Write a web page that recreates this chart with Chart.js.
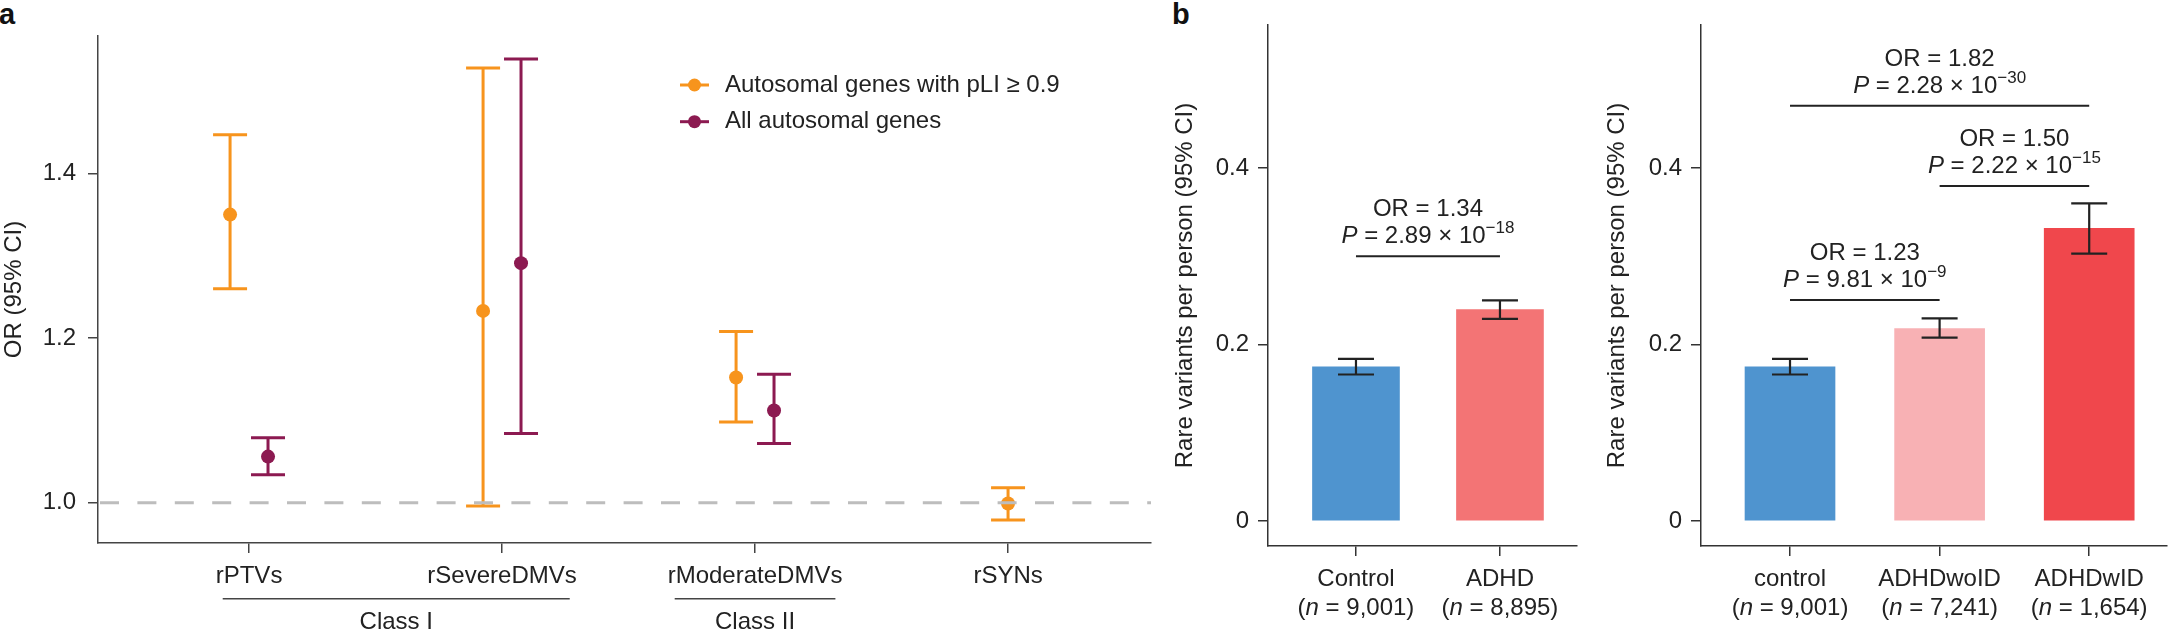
<!DOCTYPE html>
<html>
<head>
<meta charset="utf-8">
<script src="https://cdn.jsdelivr.net/npm/chart.js@4.4.1/dist/chart.umd.min.js"></script>
<style>
  html, body { margin: 0; padding: 0; background: #fff; }
  #page { position: relative; width: 2168px; height: 631px; overflow: hidden; }
  canvas { position: absolute; top: 0; }
  .tag { position: absolute; top: 0; font: bold 29px "Liberation Sans", Arial, sans-serif; line-height: 1; color: #111; }
</style>
</head>
<body>
<div id="page">
  <div class="tag" style="left:-1px">a</div>
  <div class="tag" style="left:1172px">b</div>
  <canvas id="chartA" width="1160" height="631" style="left:0"></canvas>
  <canvas id="chartB1" width="430" height="631" style="left:1160px"></canvas>
  <canvas id="chartB2" width="576" height="631" style="left:1592px"></canvas>
</div>
<script>
// ---- panel a data: odds ratios with 95% CI ----
const categories = ['rPTVs', 'rSevereDMVs', 'rModerateDMVs', 'rSYNs'];
const pliOR = [1.350, 1.233, 1.152, 0.999];
const pliLow = [1.260, 0.996, 1.098, 0.979];
const pliHigh = [1.447, 1.528, 1.208, 1.018];
const allOR = [1.056, 1.291, 1.112, null];
const allLow = [1.034, 1.084, 1.072, null];
const allHigh = [1.079, 1.539, 1.156, null];
const orTicks = [1.0, 1.2, 1.4];
const refValue = 1.0;
const classNames = ['Class I', 'Class II'];
const classFirst = [0, 2];
const classLast = [1, 2];

// ---- panel b data: rare variants per person ----
const groupsB1 = ['Control', 'ADHD'];
const nB1 = ['9,001', '8,895'];
const rateB1 = [0.1747, 0.2397];
const lowB1 = [0.166, 0.229];
const highB1 = [0.1837, 0.250];
const compB1From = [0];
const compB1To = [1];
const compB1Level = [0.300];
const compB1OR = ['1.34'];
const compB1P = ['2.89'];
const compB1Exp = ['\u221218'];

const groupsB2 = ['control', 'ADHDwoID', 'ADHDwID'];
const nB2 = ['9,001', '7,241', '1,654'];
const rateB2 = [0.1747, 0.218, 0.3317];
const lowB2 = [0.166, 0.2077, 0.303];
const highB2 = [0.1837, 0.2296, 0.360];
const compB2From = [0, 1, 0];
const compB2To = [1, 2, 2];
const compB2Level = [0.2504, 0.3796, 0.4705];
const compB2OR = ['1.23', '1.50', '1.82'];
const compB2P = ['9.81', '2.22', '2.28'];
const compB2Exp = ['\u22129', '\u221215', '\u221230'];
const rateTicks = [0, 0.2, 0.4];

const ORANGE = '#F7941D';
const MAROON = '#8C1A51';
const FONT = '"Liberation Sans", Arial, sans-serif';
const DODGE = 0.075;

Chart.defaults.font.family = FONT;
Chart.defaults.font.size = 24;
Chart.defaults.color = '#222';
Chart.defaults.animation = false;
Chart.defaults.responsive = false;
Chart.defaults.plugins.legend.display = false;
Chart.defaults.plugins.tooltip.enabled = false;

function axisStyle(color) {
    return {
        offset: false,
        border: { display: true, color: color, width: 1.5 },
        grid: { drawOnChartArea: false, offset: false, color: color, lineWidth: 1.5, tickLength: 10 },
    };
}

// draws a row of text pieces (different fonts) centred on cx
function drawRuns(ctx, runs, cx, baseline) {
    let total = 0;
    runs.forEach(r => {
        ctx.font = r.font;
        r.w = ctx.measureText(r.text).width;
        total += r.w;
    });
    let x = cx - total / 2;
    ctx.textAlign = 'left';
    ctx.textBaseline = 'alphabetic';
    runs.forEach(r => {
        ctx.font = r.font;
        ctx.fillText(r.text, x, baseline + (r.dy || 0));
        x += r.w;
    });
}

function dodge(i, side) {
    const both = pliOR[i] !== null && allOR[i] !== null;
    return both ? i + side * DODGE : i;
}

const errorBarsA = {
    id: 'errorBarsA',
    beforeDatasetsDraw(chart) {
        const { ctx, scales: { x, y } } = chart;
        chart.data.datasets.forEach(ds => {
            ctx.save();
            ctx.strokeStyle = ds.borderColor;
            ctx.lineWidth = 3;
            ds.data.forEach((p, i) => {
                if (p.y === null) return;
                const px = x.getPixelForValue(p.x);
                const top = y.getPixelForValue(ds.high[i]);
                const bot = y.getPixelForValue(ds.low[i]);
                ctx.beginPath();
                ctx.moveTo(px, top); ctx.lineTo(px, bot);
                ctx.moveTo(px - 17, top); ctx.lineTo(px + 17, top);
                ctx.moveTo(px - 17, bot); ctx.lineTo(px + 17, bot);
                ctx.stroke();
            });
            ctx.restore();
        });
    }
};

const refLineA = {
    id: 'refLineA',
    afterDatasetsDraw(chart) {
        const { ctx, chartArea, scales: { y } } = chart;
        const py = y.getPixelForValue(refValue);
        ctx.save();
        ctx.strokeStyle = '#BDBDBD';
        ctx.lineWidth = 3;
        ctx.setLineDash([19, 18.4]);
        ctx.beginPath();
        ctx.moveTo(chartArea.left + 2, py);
        ctx.lineTo(chartArea.right, py);
        ctx.stroke();
        ctx.restore();
    }
};

const legendA = {
    id: 'legendA',
    afterDraw(chart) {
        const ctx = chart.ctx;
        ctx.save();
        chart.data.datasets.forEach((ds, i) => {
            const yy = 85 + i * 36.7;
            ctx.strokeStyle = ds.borderColor;
            ctx.fillStyle = ds.borderColor;
            ctx.lineWidth = 3;
            ctx.beginPath();
            ctx.moveTo(680, yy); ctx.lineTo(709, yy);
            ctx.stroke();
            ctx.beginPath();
            ctx.arc(694.5, yy, 6.5, 0, Math.PI * 2);
            ctx.fill();
            ctx.fillStyle = '#222';
            ctx.font = '24px ' + FONT;
            ctx.textAlign = 'left';
            ctx.textBaseline = 'middle';
            ctx.fillText(ds.label, 725, yy);
        });
        ctx.restore();
    }
};

const classBracketsA = {
    id: 'classBracketsA',
    afterDraw(chart) {
        const { ctx, scales: { x } } = chart;
        ctx.save();
        ctx.font = '24px ' + FONT;
        classNames.forEach((name, g) => {
            const w0 = ctx.measureText(categories[classFirst[g]]).width;
            const w1 = ctx.measureText(categories[classLast[g]]).width;
            const left = x.getPixelForValue(classFirst[g]) - w0 / 2 + 7;
            const right = x.getPixelForValue(classLast[g]) + w1 / 2 - 7;
            ctx.strokeStyle = '#444';
            ctx.lineWidth = 1.5;
            ctx.beginPath();
            ctx.moveTo(left, 598.7); ctx.lineTo(right, 598.7);
            ctx.stroke();
            ctx.fillStyle = '#222';
            ctx.textAlign = 'center';
            ctx.textBaseline = 'alphabetic';
            ctx.fillText(name, (left + right) / 2, 629);
        });
        ctx.restore();
    }
};

new Chart(document.getElementById('chartA'), {
    type: 'scatter',
    data: {
        datasets: [
            {
                label: 'Autosomal genes with pLI \u2265 0.9',
                data: pliOR.map((v, i) => ({ x: dodge(i, -1), y: v })),
                low: pliLow, high: pliHigh,
                borderColor: ORANGE, backgroundColor: ORANGE,
                pointRadius: 7, pointBorderWidth: 0
            },
            {
                label: 'All autosomal genes',
                data: allOR.map((v, i) => ({ x: dodge(i, 1), y: v })),
                low: allLow, high: allHigh,
                borderColor: MAROON, backgroundColor: MAROON,
                pointRadius: 7, pointBorderWidth: 0
            }
        ]
    },
    options: {
        layout: { padding: { left: 0, top: 36, right: 9, bottom: 0 } },
        scales: {
            x: {
                type: 'linear', min: -0.597, max: 3.565, ...axisStyle('#444'),
                afterBuildTicks: s => { s.ticks = categories.map((c, i) => ({ value: i })); },
                afterFit: s => { s.height = 88; },
                ticks: { padding: 9, autoSkip: false, maxRotation: 0, callback: v => categories[v] }
            },
            y: {
                min: 0.951, max: 1.567, ...axisStyle('#444'),
                afterBuildTicks: s => { s.ticks = orTicks.map(v => ({ value: v })); },
                afterFit: s => { s.width = 98; },
                ticks: { padding: 12, callback: v => v.toFixed(1) },
                title: { display: true, text: 'OR (95% CI)', padding: 0 }
            }
        }
    },
    plugins: [errorBarsA, refLineA, legendA, classBracketsA]
});

// ---- panel b ----
const errorBarsB = {
    id: 'errorBarsB',
    afterDatasetsDraw(chart) {
        const { ctx, scales: { x, y } } = chart;
        const ds = chart.data.datasets[0];
        ctx.save();
        ctx.strokeStyle = '#222';
        ctx.lineWidth = 2.2;
        ds.data.forEach((p, i) => {
            const px = x.getPixelForValue(p.x);
            const top = y.getPixelForValue(ds.high[i]);
            const bot = y.getPixelForValue(ds.low[i]);
            ctx.beginPath();
            ctx.moveTo(px, top); ctx.lineTo(px, bot);
            ctx.moveTo(px - 18, top); ctx.lineTo(px + 18, top);
            ctx.moveTo(px - 18, bot); ctx.lineTo(px + 18, bot);
            ctx.stroke();
        });
        ctx.restore();
    }
};

const groupLabelsB = {
    id: 'groupLabelsB',
    afterDraw(chart) {
        const { ctx, scales: { x } } = chart;
        const ds = chart.data.datasets[0];
        ctx.save();
        ctx.fillStyle = '#222';
        ds.groups.forEach((g, i) => {
            const px = x.getPixelForValue(i);
            drawRuns(ctx, [{ text: g, font: '24px ' + FONT }], px, 586);
            drawRuns(ctx, [
                { text: '(', font: '24px ' + FONT },
                { text: 'n', font: 'italic 24px ' + FONT },
                { text: ' = ' + ds.counts[i] + ')', font: '24px ' + FONT }
            ], px, 615);
        });
        ctx.restore();
    }
};

const comparisonsB = {
    id: 'comparisonsB',
    afterDraw(chart) {
        const { ctx, scales: { x, y } } = chart;
        const c = chart.data.datasets[0].comps;
        ctx.save();
        ctx.fillStyle = '#222';
        ctx.strokeStyle = '#222';
        ctx.lineWidth = 1.8;
        c.from.forEach((f, k) => {
            const x1 = x.getPixelForValue(f);
            const x2 = x.getPixelForValue(c.to[k]);
            const ly = y.getPixelForValue(c.level[k]);
            ctx.beginPath();
            ctx.moveTo(x1, ly); ctx.lineTo(x2, ly);
            ctx.stroke();
            const cx = (x1 + x2) / 2;
            drawRuns(ctx, [{ text: 'OR = ' + c.or[k], font: '24px ' + FONT }], cx, ly - 40);
            drawRuns(ctx, [
                { text: 'P', font: 'italic 24px ' + FONT },
                { text: ' = ' + c.p[k] + ' \u00d7 10', font: '24px ' + FONT },
                { text: c.exp[k], font: '17px ' + FONT, dy: -10 }
            ], cx, ly - 13);
        });
        ctx.restore();
    }
};

function makeBarChart(id, groups, counts, rates, lows, highs, colors, xMin, xMax, barW, axisW, padRight, comps) {
    return new Chart(document.getElementById(id), {
        type: 'bar',
        data: {
            datasets: [{
                data: rates.map((v, i) => ({ x: i, y: v })),
                low: lows, high: highs, groups: groups, counts: counts, comps: comps,
                backgroundColor: colors,
                borderWidth: 0,
                barThickness: barW
            }]
        },
        options: {
            layout: { padding: { left: 0, top: 25, right: padRight, bottom: 0 } },
            scales: {
                x: {
                    type: 'linear', min: xMin, max: xMax, ...axisStyle('#333'),
                    afterBuildTicks: s => { s.ticks = groups.map((g, i) => ({ value: i })); },
                    afterFit: s => { s.height = 85; },
                    ticks: { display: false }
                },
                y: {
                    min: -0.0283, max: 0.562, ...axisStyle('#333'),
                    afterBuildTicks: s => { s.ticks = rateTicks.map(v => ({ value: v })); },
                    afterFit: s => { s.width = axisW; },
                    ticks: { padding: 9, callback: v => (v === 0 ? '0' : v.toFixed(1)) },
                    title: { display: true, text: 'Rare variants per person (95% CI)', padding: { top: 10.6, bottom: 0 } }
                }
            }
        },
        plugins: [errorBarsB, groupLabelsB, comparisonsB]
    });
}

makeBarChart('chartB1', groupsB1, nB1, rateB1, lowB1, highB1,
    ['#4F94CF', '#F37475'], -0.611, 1.535, 87, 108, 13,
    { from: compB1From, to: compB1To, level: compB1Level, or: compB1OR, p: compB1P, exp: compB1Exp });

makeBarChart('chartB2', groupsB2, nB2, rateB2, lowB2, highB2,
    ['#4F94CF', '#F8B1B4', '#F0474C'], -0.595, 2.52, 90, 109, 1,
    { from: compB2From, to: compB2To, level: compB2Level, or: compB2OR, p: compB2P, exp: compB2Exp });
</script>
</body>
</html>
